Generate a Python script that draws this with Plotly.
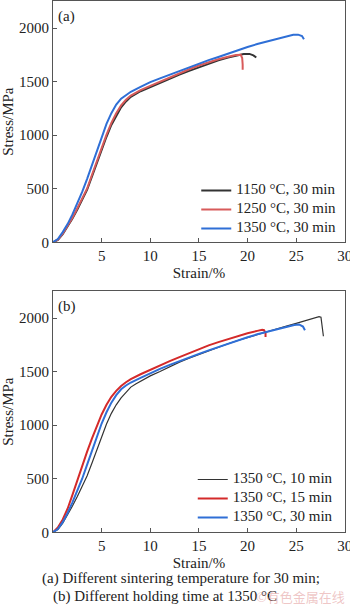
import plotly.graph_objects as go

# ---- (a) different sintering temperature, 30 min ----
a_1150_strain = [0, 0.5, 1, 1.5, 2, 2.5, 3, 3.5, 4, 4.5, 5, 5.5, 6, 6.5, 7, 7.5, 8, 9, 10, 11, 12, 13, 14, 15, 16, 17, 18, 19, 19.6, 20.2, 20.6, 20.9]
a_1150_stress = [0, 22, 75, 145, 222, 305, 395, 490, 612, 740, 865, 985, 1095, 1185, 1260, 1315, 1358, 1410, 1450, 1490, 1528, 1565, 1600, 1635, 1668, 1698, 1725, 1748, 1758, 1758, 1745, 1725]

a_1250_strain = [0, 0.5, 1, 1.5, 2, 2.5, 3, 3.5, 4, 4.5, 5, 5.5, 6, 6.5, 7, 7.5, 8, 9, 10, 11, 12, 13, 14, 15, 16, 17, 18, 18.8, 19.3, 19.45, 19.5, 19.5]
a_1250_stress = [0, 25, 80, 150, 230, 318, 408, 500, 628, 755, 880, 1005, 1115, 1205, 1278, 1330, 1370, 1420, 1460, 1500, 1540, 1578, 1615, 1650, 1680, 1708, 1732, 1748, 1750, 1720, 1660, 1610]

a_1350_strain = [0, 0.5, 1, 1.5, 2, 2.5, 3, 3.5, 4, 4.5, 5, 5.5, 6, 6.5, 7, 7.5, 8, 9, 10, 11, 12, 13, 14, 15, 16, 17, 18, 19, 20, 21, 22, 23, 24, 24.7, 25.2, 25.6, 25.8]
a_1350_stress = [0, 30, 95, 170, 260, 360, 470, 590, 720, 860, 990, 1105, 1205, 1285, 1340, 1375, 1405, 1450, 1495, 1530, 1565, 1600, 1635, 1670, 1700, 1730, 1762, 1793, 1822, 1850, 1875, 1900, 1922, 1936, 1938, 1925, 1895]

# ---- (b) different holding time at 1350 °C ----
b_10_strain = [0, 0.5, 1, 1.5, 2, 2.5, 3, 3.5, 4, 4.5, 5, 5.5, 6, 6.5, 7, 7.5, 8, 8.5, 9, 10, 11, 12, 13, 14, 15, 16, 17, 18, 19, 20, 21, 22, 23, 24, 25, 26, 27, 27.35, 27.55, 27.7, 27.8]
b_10_stress = [0, 25, 85, 160, 245, 335, 430, 525, 645, 770, 890, 1010, 1110, 1190, 1255, 1310, 1355, 1385, 1410, 1460, 1500, 1545, 1588, 1625, 1660, 1695, 1728, 1760, 1790, 1818, 1845, 1872, 1898, 1925, 1950, 1975, 2005, 2013, 2008, 1920, 1830]

b_15_strain = [0, 0.5, 1, 1.5, 2, 2.5, 3, 3.5, 4, 4.5, 5, 5.5, 6, 6.5, 7, 7.5, 8, 9, 10, 11, 12, 13, 14, 15, 16, 17, 18, 19, 20, 21, 21.5, 21.7, 21.85, 21.85]
b_15_stress = [0, 45, 120, 220, 350, 490, 620, 750, 875, 995, 1100, 1190, 1265, 1320, 1365, 1400, 1430, 1475, 1518, 1558, 1598, 1635, 1672, 1710, 1745, 1775, 1805, 1832, 1858, 1880, 1890, 1886, 1860, 1822]

b_30_strain = [0, 0.5, 1, 1.5, 2, 2.5, 3, 3.5, 4, 4.5, 5, 5.5, 6, 6.5, 7, 7.5, 8, 9, 10, 11, 12, 13, 14, 15, 16, 17, 18, 19, 20, 21, 22, 23, 24, 24.8, 25.3, 25.7, 25.9]
b_30_stress = [0, 30, 95, 180, 280, 390, 500, 630, 760, 890, 1015, 1120, 1210, 1280, 1335, 1370, 1398, 1442, 1485, 1525, 1562, 1598, 1632, 1665, 1698, 1730, 1760, 1790, 1820, 1848, 1872, 1896, 1918, 1935, 1940, 1920, 1885]

labels_a = ["1150 °C, 30 min", "1250 °C, 30 min", "1350 °C, 30 min"]
labels_b = ["1350 °C, 10 min", "1350 °C, 15 min", "1350 °C, 30 min"]
x_ticks = [5, 10, 15, 20, 25, 30]
y_ticks = [0, 500, 1000, 1500, 2000]

FONT = "Liberation Serif"
TXT = "#222222"
BLACK = "#333333"
RED_A = "#d85a5a"
RED_B = "#d42a2a"
BLUE = "#2f6fd6"


def leg(name):
    return "<span style='font-size:15px'>%s</span>" % name


fig = go.Figure()
fig.add_trace(go.Scatter(x=a_1150_strain, y=a_1150_stress, mode="lines", name=leg(labels_a[0]),
                         line=dict(color=BLACK, width=2), xaxis="x", yaxis="y", legend="legend"))
fig.add_trace(go.Scatter(x=a_1250_strain, y=a_1250_stress, mode="lines", name=leg(labels_a[1]),
                         line=dict(color=RED_A, width=2), xaxis="x", yaxis="y", legend="legend"))
fig.add_trace(go.Scatter(x=a_1350_strain, y=a_1350_stress, mode="lines", name=leg(labels_a[2]),
                         line=dict(color=BLUE, width=2), xaxis="x", yaxis="y", legend="legend"))
fig.add_trace(go.Scatter(x=b_10_strain, y=b_10_stress, mode="lines", name=leg(labels_b[0]),
                         line=dict(color=BLACK, width=1.2), xaxis="x2", yaxis="y2", legend="legend2"))
fig.add_trace(go.Scatter(x=b_15_strain, y=b_15_stress, mode="lines", name=leg(labels_b[1]),
                         line=dict(color=RED_B, width=2), xaxis="x2", yaxis="y2", legend="legend2"))
fig.add_trace(go.Scatter(x=b_30_strain, y=b_30_stress, mode="lines", name=leg(labels_b[2]),
                         line=dict(color=BLUE, width=2), xaxis="x2", yaxis="y2", legend="legend2"))

W, H = 350, 605
xdom = [53 / W, 345 / W]
ydom_a = [1 - 242.3 / H, 1 - 1 / H]
ydom_b = [1 - 532.3 / H, 1 - 291 / H]

axis_common = dict(showgrid=False, zeroline=False, showline=True, linecolor="#555555", linewidth=1,
                   mirror=True, ticks="inside", ticklen=4, tickcolor="#555555", automargin=False,
                   ticklabeloverflow="allow",
                   tickfont=dict(family=FONT, size=15, color=TXT))

xa = dict(axis_common, range=[0, 30.02], tickvals=x_ticks, domain=xdom,
          title=dict(text="Strain/%", font=dict(family=FONT, size=15, color=TXT), standoff=4))
ya = dict(axis_common, range=[0, 2252], tickvals=y_ticks,
          title=dict(text="Stress/MPa", font=dict(family=FONT, size=15, color=TXT), standoff=2))

fig.update_layout(
    width=W, height=H, margin=dict(l=0, r=0, t=0, b=0, autoexpand=False),
    paper_bgcolor="white", plot_bgcolor="white",
    font=dict(family=FONT, size=15, color=TXT),
    xaxis=dict(xa, anchor="y"),
    yaxis=dict(ya, domain=ydom_a, anchor="x"),
    xaxis2=dict(xa, anchor="y2"),
    yaxis2=dict(ya, domain=ydom_b, anchor="x2"),
    legend=dict(x=0.975, y=1 - 243 / H, xanchor="right", yanchor="bottom", bgcolor="rgba(0,0,0,0)",
                font=dict(family=FONT, size=10, color=TXT), tracegroupgap=0),
    legend2=dict(x=0.965, y=1 - 532 / H, xanchor="right", yanchor="bottom", bgcolor="rgba(0,0,0,0)",
                 font=dict(family=FONT, size=10, color=TXT), tracegroupgap=0),
    showlegend=True,
)

fig.add_annotation(text="(a)", xref="paper", yref="paper", x=56 / W, y=1 - 6 / H, xanchor="left",
                   yanchor="top", showarrow=False, font=dict(family=FONT, size=15, color=TXT))
fig.add_annotation(text="(b)", xref="paper", yref="paper", x=56 / W, y=1 - 296 / H, xanchor="left",
                   yanchor="top", showarrow=False, font=dict(family=FONT, size=15, color=TXT))
fig.add_annotation(text="(a) Different sintering temperature for 30 min;", xref="paper", yref="paper",
                   x=181 / W, y=1 - 578 / H, xanchor="center", yanchor="middle", showarrow=False,
                   font=dict(family=FONT, size=15, color=TXT))
fig.add_annotation(text="(b) Different holding time at 1350 °C", xref="paper", yref="paper",
                   x=51 / W, y=1 - 596 / H, xanchor="left", yanchor="middle", showarrow=False,
                   font=dict(family=FONT, size=15, color=TXT))
fig.add_annotation(text="©有色金属在线", xref="paper", yref="paper",
                   x=347 / W, y=1 - 596 / H, xanchor="right", yanchor="middle", showarrow=False,
                   font=dict(family="Noto Sans CJK SC", size=13, color="rgba(225,150,150,0.55)"))

fig.write_html("out.html")
